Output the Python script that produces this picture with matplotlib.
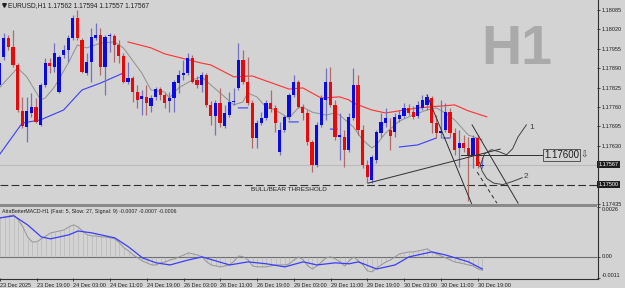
import numpy as np
import matplotlib
matplotlib.use("Agg")
import matplotlib.pyplot as plt
from matplotlib.transforms import blended_transform_factory

# ---------------- data ----------------
symbol = "EURUSD,H1"
opens = [1.17834, 1.17928, 1.17991, 1.17961, 1.17901, 1.17747, 1.17693, 1.17740, 1.17760, 1.17700,
         1.17834, 1.17907, 1.17894, 1.17810, 1.17934, 1.17951, 1.17991, 1.18058, 1.17985, 1.17874,
         1.17911, 1.17991, 1.18001, 1.17894, 1.17998, 1.17998, 1.17968, 1.17931, 1.17844, 1.17857,
         1.17810, 1.17787, 1.17794, 1.17763, 1.17794, 1.17820, 1.17800, 1.17780, 1.17790, 1.17840,
         1.17867, 1.17874, 1.17924, 1.17851, 1.17834, 1.17867, 1.17767, 1.17730, 1.17773, 1.17696,
         1.17733, 1.17777, 1.17824, 1.17918, 1.17844, 1.17773, 1.17656, 1.17706, 1.17723, 1.17773,
         1.17757, 1.17609, 1.17683, 1.17727, 1.17800, 1.17844, 1.17760, 1.17740, 1.17643, 1.17566,
         1.17700, 1.17784, 1.17844, 1.17767, 1.17660, 1.17660, 1.17616, 1.17723, 1.17834, 1.17683,
         1.17566, 1.17516, 1.17583, 1.17673, 1.17706, 1.17683, 1.17676, 1.17720, 1.17730, 1.17757,
         1.17743, 1.17730, 1.17757, 1.17767, 1.17790, 1.17706, 1.17673, 1.17683, 1.17743, 1.17673,
         1.17623, 1.17639, 1.17623, 1.17599, 1.17656, 1.17562]
highs = [1.17918, 1.18008, 1.18001, 1.18018, 1.17907, 1.17794, 1.17794, 1.17807, 1.17790, 1.17840,
         1.17924, 1.17924, 1.17974, 1.17934, 1.17968, 1.18001, 1.18068, 1.18085, 1.17991, 1.17941,
         1.18025, 1.18041, 1.18025, 1.18001, 1.18008, 1.18005, 1.17985, 1.17941, 1.17911, 1.17864,
         1.17834, 1.17817, 1.17834, 1.17800, 1.17827, 1.17827, 1.17807, 1.17810, 1.17851, 1.17884,
         1.17918, 1.17941, 1.17934, 1.17864, 1.17877, 1.17874, 1.17780, 1.17784, 1.17824, 1.17767,
         1.17810, 1.17824, 1.17974, 1.17951, 1.17928, 1.17784, 1.17717, 1.17743, 1.17784, 1.17817,
         1.17767, 1.17710, 1.17733, 1.17807, 1.17867, 1.17851, 1.17770, 1.17750, 1.17650, 1.17710,
         1.17800, 1.17891, 1.17894, 1.17784, 1.17740, 1.17683, 1.17740, 1.17891, 1.17867, 1.17700,
         1.17583, 1.17599, 1.17683, 1.17740, 1.17757, 1.17723, 1.17740, 1.17750, 1.17773, 1.17770,
         1.17763, 1.17780, 1.17800, 1.17804, 1.17797, 1.17733, 1.17784, 1.17773, 1.17757, 1.17690,
         1.17683, 1.17666, 1.17660, 1.17666, 1.17666, 1.17594]
lows = [1.17824, 1.17918, 1.17951, 1.17894, 1.17743, 1.17690, 1.17643, 1.17727, 1.17706, 1.17696,
        1.17827, 1.17874, 1.17877, 1.17807, 1.17924, 1.17911, 1.17985, 1.17985, 1.17874, 1.17867,
        1.17844, 1.17985, 1.17867, 1.17800, 1.17944, 1.17911, 1.17907, 1.17840, 1.17837, 1.17777,
        1.17757, 1.17733, 1.17733, 1.17743, 1.17784, 1.17784, 1.17757, 1.17743, 1.17743, 1.17807,
        1.17851, 1.17867, 1.17840, 1.17824, 1.17810, 1.17760, 1.17700, 1.17666, 1.17693, 1.17690,
        1.17727, 1.17767, 1.17817, 1.17837, 1.17767, 1.17623, 1.17623, 1.17700, 1.17717, 1.17743,
        1.17676, 1.17599, 1.17676, 1.17717, 1.17794, 1.17757, 1.17717, 1.17633, 1.17542, 1.17559,
        1.17693, 1.17717, 1.17760, 1.17650, 1.17583, 1.17559, 1.17609, 1.17717, 1.17666, 1.17556,
        1.17505, 1.17505, 1.17572, 1.17660, 1.17693, 1.17616, 1.17660, 1.17710, 1.17723, 1.17733,
        1.17720, 1.17723, 1.17750, 1.17750, 1.17673, 1.17656, 1.17656, 1.17676, 1.17660, 1.17599,
        1.17559, 1.17609, 1.17445, 1.17556, 1.17556, 1.17557]
closes = [1.17907, 1.17991, 1.17961, 1.17901, 1.17750, 1.17696, 1.17747, 1.17760, 1.17710, 1.17834,
          1.17907, 1.17897, 1.17941, 1.17928, 1.17951, 1.17991, 1.18058, 1.17991, 1.17877, 1.17911,
          1.17995, 1.18001, 1.17894, 1.17995, 1.18001, 1.17968, 1.17931, 1.17844, 1.17857, 1.17810,
          1.17784, 1.17797, 1.17773, 1.17790, 1.17820, 1.17800, 1.17773, 1.17790, 1.17844, 1.17867,
          1.17874, 1.17924, 1.17844, 1.17834, 1.17867, 1.17767, 1.17730, 1.17773, 1.17706, 1.17740,
          1.17777, 1.17780, 1.17918, 1.17844, 1.17773, 1.17656, 1.17706, 1.17723, 1.17773, 1.17753,
          1.17706, 1.17683, 1.17727, 1.17800, 1.17844, 1.17760, 1.17740, 1.17643, 1.17566, 1.17700,
          1.17790, 1.17844, 1.17767, 1.17660, 1.17666, 1.17616, 1.17727, 1.17834, 1.17683, 1.17566,
          1.17526, 1.17593, 1.17676, 1.17710, 1.17723, 1.17663, 1.17727, 1.17733, 1.17757, 1.17740,
          1.17727, 1.17767, 1.17784, 1.17794, 1.17706, 1.17673, 1.17680, 1.17743, 1.17673, 1.17616,
          1.17639, 1.17623, 1.17599, 1.17656, 1.17562, 1.17567]

# moving averages (bar index, price); NaN = hidden
gray_ma_bars = [0, 4, 6, 9, 10, 12, 15, 17, 19, 22, 25, 27, 31, 33, 36, 37, 39, 42, 44, 46, 49, 51, 53, 54,
                56, 58, 60, 63, 65, 66, 68, 71, 73, 74, 77, 79, 81, 82, 84, 87, 90, 93, 95, 97, 99, 101, 102, 105]
gray_ma_vals = [1.17824, 1.17891, 1.17861, 1.17784, 1.17790, 1.17827, 1.17907, 1.17968, 1.17958, 1.17974,
                1.17978, 1.17958, 1.17874, 1.17817, 1.17810, 1.17790, 1.17824, 1.17851, 1.17861, 1.17834,
                1.17794, 1.17767, 1.17777, 1.17807, 1.17794, 1.17760, 1.17750, 1.17723, 1.17757, 1.17760,
                1.17743, 1.17733, 1.17740, 1.17733, 1.17693, 1.17650, 1.17623, 1.17633, 1.17673, 1.17713,
                1.17733, 1.17750, 1.17757, 1.17740, 1.17717, 1.17683, 1.17666, 1.17650]
red_ma_bars = [28, 33, 36, 44, 46, 51, 55, 63, 66, 70, 74, 76, 77, 81, 84, 91, 99, 102, 106]
red_ma_vals = [1.17978, 1.17958, 1.17938, 1.17907, 1.17901, 1.17861, 1.17864, 1.17820, 1.17824, 1.17790,
               1.17794, 1.17784, 1.17773, 1.17750, 1.17740, 1.17757, 1.17767, 1.17747, 1.17727]
blue_ma_bars = [0, 5, 9, 14, 18, 22, 27, 27.5, 52, 54, 54.5, 63, 65, 65.5, 72, 73.5, 74,
                87, 91, 95, 95.5, 96.5, 98]
blue_ma_vals = [1.17599, 1.17706, 1.17717, 1.17750, 1.17817, 1.17840, 1.17874, np.nan, 1.17757, 1.17757,
                np.nan, 1.17710, 1.17710, np.nan, 1.17686, 1.17686, np.nan,
                1.17626, 1.17633, 1.17656, np.nan, 1.17656, 1.17656]

# MACD sub window
macd_main = [0.00203, 0.00208, 0.00214, 0.00219, 0.00193, 0.00156, 0.00104, 0.00078, 0.00078, 0.00094,
             0.00109, 0.00125, 0.00130, 0.00135, 0.00141, 0.00156, 0.00167, 0.00156, 0.00135, 0.00115,
             0.00109, 0.00109, 0.00104, 0.00104, 0.00099, 0.00094, 0.00073, 0.00047, 0.00031, 0.00010,
             -0.00005, -0.00021, -0.00031, -0.00042, -0.00042, -0.00031, -0.00026, -0.00016, -0.00010, 0.00000,
             0.00010, 0.00021, 0.00016, 0.00010, 0.00000, -0.00026, -0.00042, -0.00047, -0.00052, -0.00047,
             -0.00042, -0.00021, 0.00005, 0.00000, -0.00016, -0.00047, -0.00052, -0.00052, -0.00052, -0.00047,
             -0.00042, -0.00042, -0.00042, -0.00036, -0.00016, 0.00000, -0.00016, -0.00047, -0.00063, -0.00047,
             -0.00026, -0.00005, 0.00000, -0.00010, -0.00026, -0.00047, -0.00021, 0.00000, -0.00021, -0.00042,
             -0.00073, -0.00078, -0.00057, -0.00042, -0.00026, -0.00016, 0.00000, 0.00016, 0.00021, 0.00026,
             0.00026, 0.00031, 0.00036, 0.00042, 0.00026, 0.00016, 0.00005, -0.00005, -0.00016, -0.00026,
             -0.00031, -0.00036, -0.00042, -0.00047, -0.00062, -0.00070]
signal_bars = [0, 3, 6, 9, 11, 15, 17, 20, 25, 28, 31, 34, 37, 41, 44, 50, 54, 58, 62, 66, 69, 73, 76,
               78, 82, 86, 89, 94, 97, 102, 105]
signal_vals = [0.00203, 0.00214, 0.00167, 0.00104, 0.00094, 0.00115, 0.00135, 0.00125, 0.00099, 0.00052,
               -0.00005, -0.00031, -0.00042, -0.00016, 0.00000, -0.00042, -0.00026, -0.00036, -0.00052, -0.00026,
               -0.00042, -0.00031, -0.00036, -0.00026, -0.00063, -0.00042, 0.00000, 0.00026, 0.00010, -0.00026,
               -0.00063]
macd_title = "AttaBetterMACD-H1 (Fast: 5, Slow: 27, Signal: 9) -0.0007 -0.0007 -0.0006"

time_label_bars = [0, 8, 16, 24, 32, 40, 48, 56, 64, 72, 80, 88, 96, 104]
time_labels = ["23 Dec 2025", "23 Dec 19:00", "24 Dec 03:00", "24 Dec 11:00", "24 Dec 19:00",
               "26 Dec 03:00", "26 Dec 11:00", "26 Dec 19:00", "29 Dec 03:00", "29 Dec 11:00",
               "29 Dec 19:00", "30 Dec 03:00", "30 Dec 11:00", "30 Dec 19:00"]
price_ticks = [1.18085, 1.18020, 1.17955, 1.17890, 1.17825, 1.17760, 1.17695, 1.17630, 1.17435]
macd_ticks = [0.0026, 0.0, -0.0011]
macd_tick_labels = ["0.0026", "0.00", "-0.0011"]

threshold = 1.17500
threshold_label = "BULL/BEAR THRESHOLD"
target_level = 1.17600
bid_price = closes[-1]

# drawn objects (bar index, price)
trend_line = [(80.2, 1.17505), (108.9, 1.17619)]
target_line = [(100.5, 1.17600), (118.2, 1.17600)]
channel_a = [(93.0, 1.17800), (102.8, 1.17432)]
channel_b = [(102.8, 1.17700), (112.8, 1.17438)]
channel_dash = [(103.9, 1.17542), (108.2, 1.17438)]
path1_bars = [104.5, 105.5, 107.0, 108.7, 110.3, 111.6, 112.8, 114.6]
path1_vals = [1.17560, 1.17603, 1.17617, 1.17610, 1.17600, 1.17620, 1.17660, 1.17700]
path2_bars = [104.4, 105.0, 106.0, 107.5, 109.5, 111.5, 113.7]
path2_vals = [1.17575, 1.17545, 1.17520, 1.17505, 1.17500, 1.17510, 1.17523]

# ---------------- style ----------------
BG = "#d3d3d3"
FONT = "Liberation Sans"
W, H = 625, 288
PLOT_W, MAIN_H, SUB_TOP, SUB_BOT = 597, 204, 207, 278

fig = plt.figure(figsize=(W / 100, H / 100), dpi=100, facecolor=BG)
ax = fig.add_axes([0, 1 - MAIN_H / H, PLOT_W / W, MAIN_H / H], facecolor=BG)
ax2 = fig.add_axes([0, 1 - SUB_BOT / H, PLOT_W / W, (SUB_BOT - SUB_TOP) / H], facecolor=BG)

XMIN, XMAX = 0.174, 129.96
for a in (ax, ax2):
    a.set_xlim(XMIN, XMAX)
    for s in a.spines.values():
        s.set_visible(False)
ax.set_ylim(1.174351, 1.181185)
ax2.set_ylim(-0.0011, 0.0026)

n = len(opens)
idx = np.arange(n)
o = np.array(opens); c = np.array(closes); hi = np.array(highs); lo = np.array(lows)
bull = c >= o

# watermark
ax.text(0.866, 0.755, "H1", transform=ax.transAxes, fontsize=40, fontweight="bold",
        family=FONT, color="#aaaaaa", ha="center", va="center", zorder=1)

# bid line & threshold
ax.axhline(bid_price, color="#bcbcbc", lw=0.8, zorder=1.5)
ax.axhline(threshold, color="#303030", lw=0.8, ls=(0, (7, 3)), zorder=1.5)
ax.text(63, threshold - 0.00016, threshold_label, fontsize=4.6, family=FONT,
        color="#202020", ha="center", va="center", zorder=6)

# moving averages
ax.plot(gray_ma_bars, gray_ma_vals, color="#8f8f8f", lw=0.7, zorder=2)
ax.plot(red_ma_bars, red_ma_vals, color="#ff3030", lw=0.8, zorder=2)
ax.plot(blue_ma_bars, blue_ma_vals, color="#3c3cff", lw=0.8, zorder=2)

# candles
ppx = (1.181185 - 1.174351) / MAIN_H
wick_cols = np.where(bull, "#7272c0", "#b06a6a")
body_cols = np.where(bull, "#0a0ae6", "#e60a0a")
ax.vlines(idx, lo, hi, colors=wick_cols, lw=0.9, zorder=3)
body_h = np.maximum(np.abs(c - o), ppx * 1.2)
body_b = np.minimum(o, c)
ax.bar(idx, body_h, bottom=body_b, width=0.66, color=body_cols, lw=0, zorder=4)

# drawn analysis objects
def seg(p, **kw):
    ax.plot([p[0][0], p[1][0]], [p[0][1], p[1][1]], **kw)

seg(trend_line, color="#303030", lw=0.7, zorder=5)
seg(target_line, color="#303030", lw=0.7, zorder=5)
seg(channel_a, color="#303030", lw=0.7, zorder=5)
seg(channel_b, color="#303030", lw=0.7, zorder=5)
seg(channel_dash, color="#303030", lw=0.7, ls=(0, (4, 3)), zorder=5)
ax.plot(path1_bars, path1_vals, color="#404040", lw=0.7, zorder=5)
ax.plot(path2_bars, path2_vals, color="#404040", lw=0.7, zorder=5)
ax.text(path1_bars[-1] + 0.6, path1_vals[-1] - 0.00008, "1", fontsize=6, family=FONT, color="#404040",
        ha="left", va="center", zorder=6)
ax.text(path2_bars[-1] + 0.4, path2_vals[-1] + 0.00005, "2", fontsize=6, family=FONT, color="#404040",
        ha="left", va="center", zorder=6)
ax.text(target_line[1][0] + 0.3, target_level, f"{target_level:.5f}", fontsize=7, family=FONT,
        color="#202020", ha="left", va="center", zorder=6,
        bbox=dict(boxstyle="square,pad=0.12", fc=BG, ec="#404040", lw=0.6))
ax.text(126.4, target_level, "\u21e9", fontsize=6.5, family="DejaVu Sans", color="#404040",
        ha="left", va="center", zorder=6)

# title
ax.plot([0.007], [0.975], marker="v", ms=2.6, color="#202020", transform=ax.transAxes, clip_on=False)
ax.text(0.013, 0.972, f"{symbol} {opens[-1]:.5f} {highs[-1]:.5f} {lows[-1]:.5f} {closes[-1]:.5f}",
        transform=ax.transAxes, fontsize=4.8, family=FONT, color="#202020", ha="left", va="center")

# right price axis
ax.yaxis.tick_right()
ax.set_yticks(price_ticks)
ax.set_yticklabels([f"{t:.5f}" for t in price_ticks])
ax.tick_params(axis="y", length=2, width=0.6, color="#303030", pad=1.5, labelsize=4,
               labelcolor="#202020")
for lab in ax.get_yticklabels():
    lab.set_family(FONT)
ax.set_xticks([])
trans = blended_transform_factory(ax.transAxes, ax.transData)
for val in (bid_price, threshold):
    ax.text(1.0 + 1.5 / PLOT_W, val, f"{val:.5f}", transform=trans, fontsize=4, family=FONT,
            color="white", ha="left", va="center", clip_on=False, zorder=7,
            bbox=dict(boxstyle="square,pad=0.25", fc="#1e1e1e", ec="none"))

# MACD sub window
ax2.axhline(0, color="#6e6e6e", lw=0.8, zorder=1)
ax2.vlines(idx, 0, macd_main, colors="#b4b4b4", lw=0.45, zorder=2)
ax2.plot(idx, macd_main, color="#959595", lw=0.7, zorder=3)
ax2.plot(signal_bars, signal_vals, color="#3c3cff", lw=0.9, zorder=4)
ax2.text(2 / PLOT_W, 1 - 4 / 71, macd_title, transform=ax2.transAxes, fontsize=3.8, family=FONT,
         color="#202020", ha="left", va="center")
ax2.yaxis.tick_right()
ax2.set_yticks(macd_ticks)
ax2.set_yticklabels(macd_tick_labels)
ax2.tick_params(axis="y", length=2, width=0.6, color="#303030", pad=1.5, labelsize=4,
                labelcolor="#202020")
ylabs = ax2.get_yticklabels()
for lab, va in zip(ylabs, ["top", "center", "bottom"]):
    lab.set_va(va)
    lab.set_family(FONT)
ax2.set_xticks(time_label_bars)
ax2.set_xticklabels(time_labels)
ax2.tick_params(axis="x", length=2.5, width=0.6, color="#303030", pad=0.8, labelsize=4,
                labelcolor="#202020")
for lab in ax2.get_xticklabels():
    lab.set_ha("left")
    lab.set_family(FONT)

# frame lines (separator, right axis, bottom)
fig.add_artist(plt.Rectangle((0, 1 - 207 / H), PLOT_W / W, 3 / H, transform=fig.transFigure,
                             fc="#8a8a8a", ec="none"))
fig.add_artist(plt.Line2D([(PLOT_W + 0.5) / W] * 2, [1 - 279 / H, 1], transform=fig.transFigure,
                          color="#303030", lw=0.8))
fig.add_artist(plt.Line2D([0, (PLOT_W + 0.5) / W], [1 - 278.5 / H] * 2, transform=fig.transFigure,
                          color="#303030", lw=0.8))

fig.savefig("out.png", dpi=100, facecolor=BG)
